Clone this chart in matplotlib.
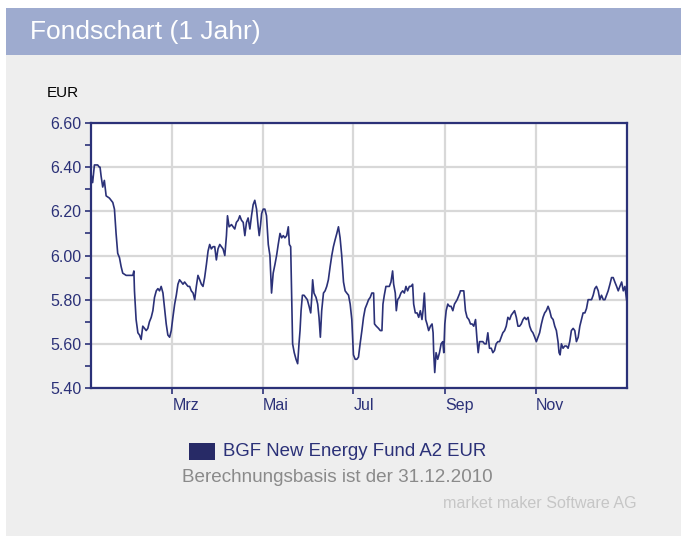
import matplotlib
matplotlib.use("Agg")
import matplotlib.pyplot as plt
from matplotlib.patches import Rectangle
from matplotlib.ticker import MultipleLocator, FormatStrFormatter

plt.rcParams['font.family'] = ['Liberation Sans', 'DejaVu Sans']

tage = [4.2, 5.3, 6.5, 7.6, 8.7, 9.8, 10.3, 11.0, 12.1, 13.2, 14.4, 16.6, 18.9, 20.0,
        21.1, 22.2, 23.4, 24.5, 25.6, 27.9, 30.1, 32.4, 33.1, 33.5, 34.6, 35.8, 36.9,
        38.0, 39.1, 40.3, 41.4, 42.5, 43.6, 44.8, 45.9, 47.0, 48.2, 49.3, 50.4, 51.5,
        52.7, 53.8, 54.9, 56.0, 57.2, 58.3, 59.4, 60.6, 61.7, 62.8, 63.9, 65.1, 66.2,
        67.3, 68.4, 69.6, 70.7, 71.8, 73.0, 74.1, 75.2, 76.3, 77.5, 78.6, 79.7, 80.8,
        82.0, 83.1, 84.2, 85.3, 86.5, 87.6, 88.7, 89.8, 91.0, 92.1, 93.2, 94.4, 95.5,
        96.2, 97.3, 98.9, 100.0, 101.1, 102.2, 103.4, 104.5, 105.6, 106.8, 107.9, 109.0,
        110.1, 111.3, 112.4, 113.5, 114.6, 115.8, 116.9, 117.6, 118.5, 119.2, 120.3,
        121.4, 122.5, 123.7, 124.8, 125.9,
        127.0, 128.2, 129.3, 130.4, 131.6, 132.7, 133.8, 134.9, 136.1, 137.2, 137.9,
        138.8, 139.4, 140.1, 141.2, 142.4, 143.5, 144.4, 145.1, 145.8, 146.7, 147.8,
        148.9, 150.0, 151.2, 152.3, 153.0, 153.6, 154.5, 155.9, 157.0, 157.9, 158.8,
        159.7, 160.9, 162.0, 163.1, 164.2, 165.4, 166.5, 167.6, 168.7, 169.9, 171.0,
        172.1, 173.2, 174.4, 175.5, 176.6, 177.8, 178.9, 180.0, 181.1, 182.3, 183.4,
        184.5, 185.6, 186.8, 187.9, 189.0, 190.2, 191.3, 192.4, 193.5, 194.7, 195.3,
        196.5, 198.0, 199.2, 200.3, 201.0, 201.9, 203.0, 204.1, 205.3, 206.4, 207.5,
        208.2, 209.3, 210.0, 210.9, 212.0, 213.1, 214.3, 215.4, 216.5, 217.6, 218.8,
        219.9, 221.0, 221.7, 222.8, 224.0, 225.1, 226.2, 227.3, 228.0, 228.9, 229.8,
        230.7, 231.8, 233.0, 234.1, 234.8, 235.2, 235.9, 236.8, 237.9, 239.1, 240.2,
        241.3, 242.0, 242.7, 243.6, 244.7, 245.8, 246.9, 248.1, 249.2, 251.0, 252.8,
        253.2, 254.3, 255.5, 256.6, 257.7, 258.9, 260.0, 261.1, 262.2, 263.4, 264.5,
        265.2, 266.1, 267.2, 268.3, 269.5, 270.6, 271.7, 272.8, 274.0, 275.1, 276.2,
        277.3, 278.5, 279.6, 280.7, 281.8, 283.0, 284.1, 285.2, 286.4, 287.5, 288.6,
        289.7, 290.9, 292.0, 293.1, 294.2, 295.4, 296.5, 297.6, 298.8, 299.9, 301.0,
        302.1, 303.3, 304.4, 305.5, 306.6, 307.8, 308.9, 310.0, 311.1, 312.3, 313.4,
        314.5, 315.7, 316.8, 317.9, 319.0, 319.7, 320.4, 321.3, 322.4, 323.5, 324.7,
        325.8, 326.9, 328.0, 329.2, 330.3, 331.4, 332.6, 333.7, 334.8, 335.9, 337.1,
        338.2, 339.3, 340.4, 341.6, 342.7, 343.8, 344.9, 346.1, 347.2, 348.3, 349.5,
        350.6, 351.7, 352.8, 354.0, 355.1, 356.2, 357.3, 358.5, 359.6, 360.7, 361.9,
        363.0, 364.1, 365.2]
kurs = [6.37, 6.33, 6.41, 6.41, 6.41, 6.40, 6.40, 6.36, 6.31, 6.34, 6.27, 6.26, 6.24, 6.21,
        6.10, 6.01, 5.99, 5.95, 5.92, 5.91, 5.91, 5.91, 5.93, 5.84, 5.71, 5.65, 5.64,
        5.62, 5.68, 5.67, 5.66, 5.67, 5.70, 5.72, 5.75, 5.81, 5.84, 5.85, 5.84, 5.86,
        5.83, 5.76, 5.69, 5.64, 5.63, 5.66, 5.72, 5.78, 5.82, 5.87, 5.89, 5.88, 5.87,
        5.88, 5.87, 5.86, 5.86, 5.84, 5.83, 5.80, 5.86, 5.91, 5.89, 5.87, 5.86, 5.90,
        5.96, 6.02, 6.05, 6.03, 6.04, 6.04, 5.98, 6.03, 6.05, 6.04, 6.03, 6.00, 6.09,
        6.18, 6.13, 6.14, 6.13, 6.12, 6.15, 6.16, 6.18, 6.16, 6.15, 6.09, 6.15,
        6.17, 6.12, 6.18, 6.23, 6.25, 6.21, 6.13, 6.09, 6.14, 6.19, 6.21,
        6.21, 6.18, 6.05, 6.00, 5.83,
        5.92, 5.96, 6.00, 6.05, 6.10, 6.08, 6.09, 6.08, 6.09, 6.13, 6.05,
        6.04, 5.84, 5.60, 5.56, 5.53, 5.51, 5.60, 5.66, 5.75, 5.82, 5.82,
        5.81, 5.80, 5.77, 5.74, 5.81, 5.89, 5.83, 5.81, 5.78, 5.72, 5.63,
        5.75, 5.83, 5.84, 5.86, 5.89, 5.95, 6.00, 6.04, 6.07, 6.10, 6.13,
        6.08, 6.00, 5.88, 5.84, 5.83, 5.82, 5.78, 5.71, 5.55, 5.53, 5.53,
        5.54, 5.60, 5.66, 5.72, 5.76, 5.78, 5.80, 5.81, 5.83, 5.83, 5.69,
        5.68, 5.67, 5.66, 5.66, 5.78, 5.82, 5.86, 5.86, 5.86, 5.88, 5.93,
        5.87, 5.83, 5.75, 5.80, 5.81, 5.83, 5.84, 5.83, 5.86, 5.84, 5.86,
        5.86, 5.87, 5.78, 5.74, 5.74, 5.72, 5.75, 5.71, 5.75, 5.83, 5.71,
        5.69, 5.66, 5.68, 5.69, 5.65, 5.56, 5.47, 5.56, 5.53, 5.56, 5.60,
        5.61, 5.56, 5.69, 5.75, 5.78, 5.77, 5.77, 5.75, 5.78, 5.80, 5.83,
        5.84, 5.84, 5.84, 5.75, 5.72, 5.71, 5.69, 5.69, 5.68, 5.71, 5.61,
        5.56, 5.61, 5.61, 5.61, 5.60, 5.60, 5.65, 5.58, 5.58, 5.56, 5.57,
        5.60, 5.61, 5.61, 5.63, 5.65, 5.66, 5.68, 5.72, 5.71, 5.73, 5.74,
        5.75, 5.72, 5.68, 5.68, 5.69, 5.71, 5.72, 5.71, 5.72, 5.68, 5.66,
        5.65, 5.63, 5.61, 5.63, 5.65, 5.69, 5.72, 5.74, 5.75, 5.77, 5.75,
        5.72, 5.71, 5.68, 5.66, 5.61, 5.56, 5.55, 5.60, 5.58, 5.59, 5.59,
        5.58, 5.61, 5.66, 5.67, 5.66, 5.61, 5.63, 5.68, 5.71, 5.74, 5.74,
        5.76, 5.80, 5.80, 5.80, 5.82, 5.85, 5.86, 5.84, 5.80, 5.82, 5.80,
        5.80, 5.82, 5.84, 5.87, 5.90, 5.90, 5.88, 5.86, 5.84, 5.86, 5.88,
        5.84, 5.86, 5.80]

monats_tage = [59, 120, 181, 243, 304]
monats_namen = ['Mrz', 'Mai', 'Jul', 'Sep', 'Nov']

navy = '#2b3178'

fig = plt.figure(figsize=(6.81, 5.36), dpi=100)
fig.patch.set_facecolor('white')

# Kopfzeile und grauer Hintergrund
fig.patches.append(Rectangle((6 / 681, 0), 675 / 681, 481 / 536, transform=fig.transFigure,
                             facecolor='#eeeeee', edgecolor='none', zorder=0))
fig.patches.append(Rectangle((6 / 681, 481 / 536), 675 / 681, 47 / 536, transform=fig.transFigure,
                             facecolor='#9eabcf', edgecolor='none', zorder=0))
fig.text(30 / 681, 1 - 32 / 536, 'Fondschart (1 Jahr)', color='white', fontsize=19,
         va='center', ha='left')

ax = fig.add_axes([91 / 681, 1 - 388 / 536, 536 / 681, 265 / 536])
ax.set_zorder(3)
ax.set_facecolor('white')
ax.plot(tage, kurs, color=navy, linewidth=1.2)

ax.set_xlim(4.2, 365.5)
ax.set_ylim(5.4, 6.6)
ax.yaxis.set_major_locator(MultipleLocator(0.2))
ax.yaxis.set_minor_locator(MultipleLocator(0.1))
ax.yaxis.set_major_formatter(FormatStrFormatter('%.2f'))
ax.set_xticks(monats_tage)
ax.set_xticklabels(monats_namen, ha='left')

ax.grid(True, which='major', color='#d8d8d8', linewidth=1.6)
ax.set_axisbelow(True)
for s in ax.spines.values():
    s.set_color(navy)
    s.set_linewidth(1.6)
ax.tick_params(axis='both', which='both', direction='out', color=navy, width=1.2,
               labelcolor=navy, labelsize=11.5)
ax.tick_params(axis='y', which='major', length=4, pad=3)
ax.tick_params(axis='y', which='minor', length=4)
ax.tick_params(axis='x', which='major', length=4, pad=3)

fig.text(47 / 681, 1 - 93 / 536, 'EUR', color='black', fontsize=11, va='center', ha='left')

# Legende und Fusszeilen
fig.patches.append(Rectangle((189 / 681, 1 - 460 / 536), 26 / 681, 17 / 536, transform=fig.transFigure,
                             facecolor='#272a66', edgecolor='none', zorder=1))
fig.text(223 / 681, 1 - 452 / 536, 'BGF New Energy Fund A2 EUR', color='#2b3178',
         fontsize=13.4, va='center', ha='left')
fig.text(337 / 681, 1 - 478 / 536, 'Berechnungsbasis ist der 31.12.2010', color='#8a8a8a',
         fontsize=13.6, va='center', ha='center')
fig.text(637 / 681, 1 - 503 / 536, 'market maker Software AG', color='#c6c6c6',
         fontsize=11.6, va='center', ha='right')

fig.savefig('out.png', dpi=100)
